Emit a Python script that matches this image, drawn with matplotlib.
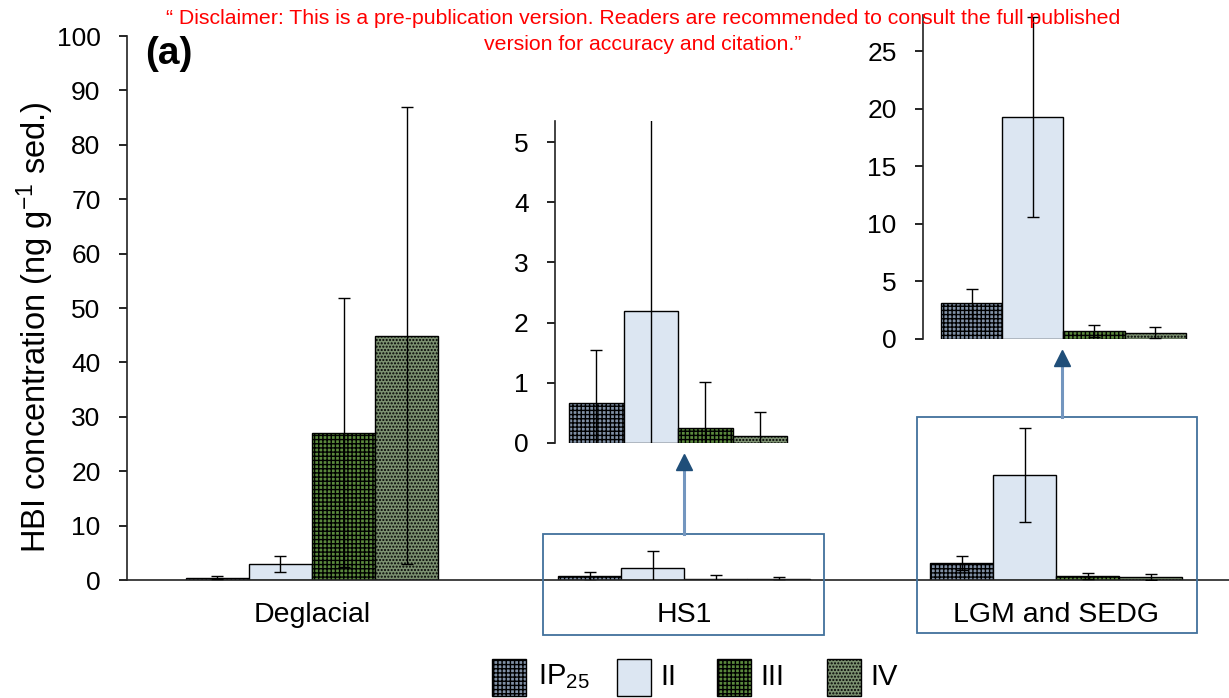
import matplotlib
matplotlib.use("Agg")
import matplotlib.pyplot as plt
from matplotlib.patches import Rectangle
from matplotlib.lines import Line2D
import numpy as np

plt.rcParams['font.family'] = ['Liberation Sans', 'DejaVu Sans']
plt.rcParams['mathtext.fontset'] = 'custom'
plt.rcParams['mathtext.rm'] = 'Liberation Sans'
plt.rcParams['mathtext.it'] = 'Liberation Sans:italic'
plt.rcParams['hatch.linewidth'] = 1.0

# ---- data (ng g-1 sed.) ----
categories = ['Deglacial', 'HS1', 'LGM and SEDG']
series = ['IP$_{\\mathregular{25}}$', 'II', 'III', 'IV']
ip25 = [0.45, 0.66, 3.1]
hbi_ii = [3.0, 2.19, 19.3]
hbi_iii = [27.1, 0.25, 0.7]
hbi_iv = [44.9, 0.12, 0.55]
err_ip25 = [0.3, 0.88, 1.25]
err_ii = [1.45, 3.19, 8.7]
err_iii = [24.7, 0.76, 0.5]
err_iv = [42.0, 0.39, 0.5]
main_yticks = list(range(0, 101, 10))
hs1_yticks = [0, 1, 2, 3, 4, 5]
lgm_yticks = [0, 5, 10, 15, 20, 25]

values = [ip25, hbi_ii, hbi_iii, hbi_iv]
errors = [err_ip25, err_ii, err_iii, err_iv]

styles = [
    dict(facecolor='#8090a5', hatch='++++'),
    dict(facecolor='#dce6f2', hatch=None),
    dict(facecolor='#5a883c', hatch='++++'),
    dict(facecolor='#7b9070', hatch='.....'),
]

W, H = 1229, 698
fig = plt.figure(figsize=(W / 100, H / 100), dpi=100)


def fig_rect(left, top, right, bottom):
    return [left / W, 1 - bottom / H, (right - left) / W, (bottom - top) / H]


TICK_FS = 19

# ---- main axes ----
ax = fig.add_axes(fig_rect(127, 36, 1229, 580))
bw = 63 / 372
for i in range(4):
    xs = np.arange(3) + (i - 1.5) * bw
    st = styles[i]
    ax.bar(xs, values[i], width=bw, color=st['facecolor'], hatch=st['hatch'],
           edgecolor='black', linewidth=1.0, zorder=2)
    ax.errorbar(xs, values[i], yerr=errors[i], fmt='none', ecolor='black',
                elinewidth=1.0, capsize=4, capthick=1.0, zorder=3)
ax.set_xlim(-0.4973, 2.465)
ax.set_ylim(0, 100)
ax.set_yticks(main_yticks)
ax.set_xticks(range(3), categories)
ax.tick_params(axis='x', length=0, pad=16, labelsize=20.5)
ax.tick_params(axis='y', direction='out', length=6, width=1.2, pad=13,
               labelsize=TICK_FS)
for s in ('top', 'right'):
    ax.spines[s].set_visible(False)
for s in ('left', 'bottom'):
    ax.spines[s].set_linewidth(1.2)
    ax.spines[s].set_color('#222222')

fig.text(35 / W, 1 - 327 / H, 'HBI concentration (ng g$^{\\mathregular{-1}}$ sed.)',
         rotation=90, ha='center', va='center', fontsize=23.5)
fig.text(145 / W, 1 - 54 / H, '(a)', fontweight='bold', fontsize=28,
         ha='left', va='center')


# ---- insets ----
def inset(rect, idx, ylim, yticks, xlim):
    a = fig.add_axes(rect)
    for i in range(4):
        st = styles[i]
        a.bar(i, values[i][idx], width=1.0, color=st['facecolor'], hatch=st['hatch'],
              edgecolor='black', linewidth=1.0, zorder=2)
        a.errorbar(i, values[i][idx], yerr=errors[i][idx], fmt='none', ecolor='black',
                   elinewidth=1.0, capsize=4, capthick=1.0, zorder=3)
    a.set_xlim(*xlim)
    a.set_ylim(*ylim)
    a.set_yticks(yticks)
    a.set_xticks([])
    a.patch.set_alpha(0)
    for s in ('top', 'right', 'bottom'):
        a.spines[s].set_visible(False)
    a.spines['left'].set_linewidth(1.2)
    a.spines['left'].set_color('#222222')
    a.tick_params(axis='y', direction='out', length=6, width=1.2, pad=13,
                  labelsize=TICK_FS)
    return a


inset(fig_rect(555, 121, 790, 443), 1, (0, 5.35), hs1_yticks, (-0.757, 3.555))
inset(fig_rect(923, 15, 1189, 339), 2, (0, 28.15), lgm_yticks, (-0.794, 3.55))

# ---- highlight boxes and arrows ----
box_col = '#41719c'
for (l, t, r, b) in [(543, 534, 824, 635), (917, 417, 1197, 633)]:
    fig.add_artist(Rectangle((l / W, 1 - b / H), (r - l) / W, (b - t) / H,
                             transform=fig.transFigure, fill=False,
                             edgecolor=box_col, linewidth=1.3, zorder=5))

for (x, y0, tip, base) in [(683.5, 534, 453, 468), (1062, 417, 350, 364)]:
    fig.add_artist(Line2D([x / W, x / W], [1 - y0 / H, 1 - (base + 2) / H],
                          transform=fig.transFigure, color='#7396bf',
                          linewidth=2.2, zorder=5))
    fig.add_artist(Line2D([x / W], [1 - ((tip + base) / 2 + 1) / H],
                          transform=fig.transFigure, marker='^', markersize=12,
                          color='#1f4e79', linestyle='none', zorder=6))

# ---- legend ----
leg_patch_x = [492, 617, 717, 827]
leg_text_x = [538, 660, 760, 870]
for i in range(4):
    st = styles[i]
    fig.add_artist(Rectangle((leg_patch_x[i] / W, 1 - 696 / H), 34 / W, 37 / H,
                             transform=fig.transFigure, facecolor=st['facecolor'],
                             hatch=st['hatch'], edgecolor='black', linewidth=1.0))
    fig.text(leg_text_x[i] / W, 1 - 677 / H, series[i], fontsize=21,
             ha='left', va='center')

# ---- note ----
fig.text(643 / W, 1 - 18 / H,
         '\u201c Disclaimer: This is a pre-publication version. Readers are recommended '
         'to consult the full published',
         color='red', fontsize=15.3, ha='center', va='center', zorder=10)
fig.text(643 / W, 1 - 45 / H, 'version for accuracy and citation.\u201d',
         color='red', fontsize=15.3, ha='center', va='center', zorder=10)

fig.savefig('out.png', dpi=100)
